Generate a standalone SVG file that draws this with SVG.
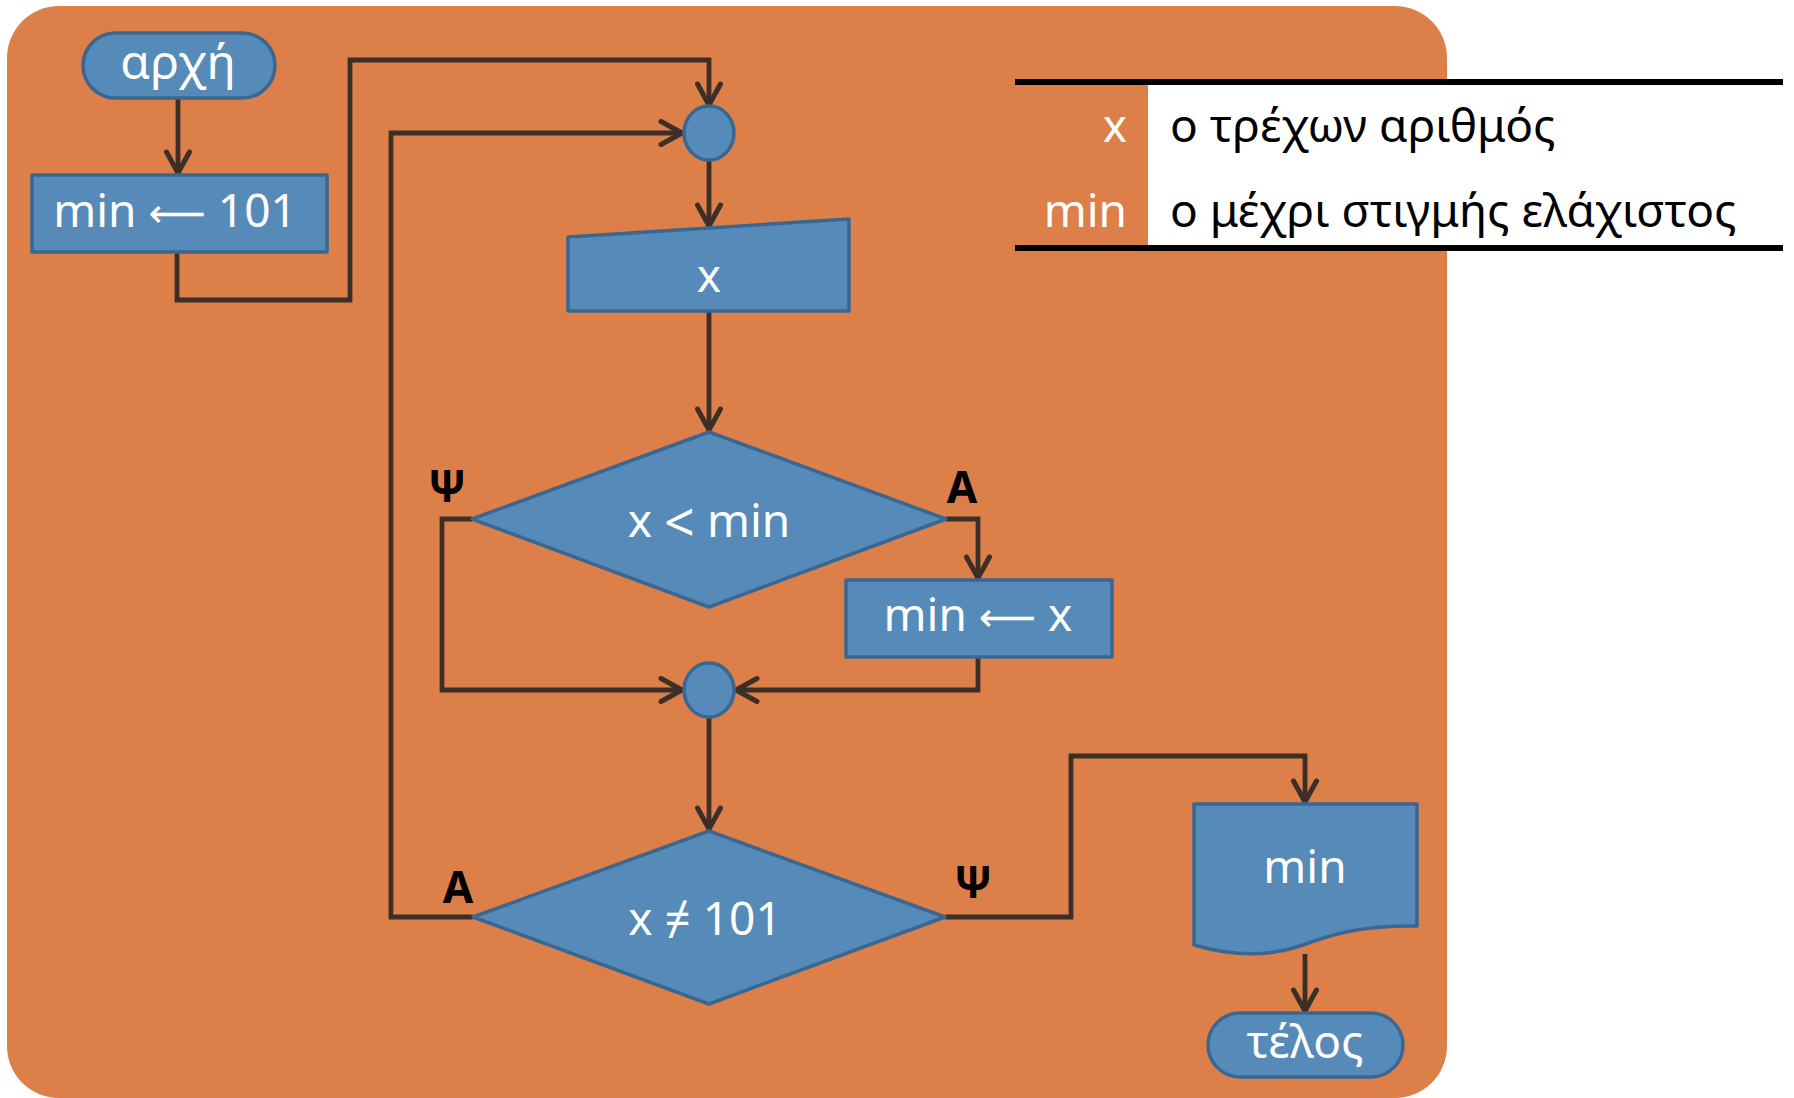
<svg xmlns="http://www.w3.org/2000/svg" width="1794" height="1098" viewBox="0 0 1794 1098">
<defs>
<style>
.node{fill:#558AB9;stroke:#3A6791;stroke-width:3.5;stroke-linejoin:round}
.t{font-family:"Noto Sans","DejaVu Sans",sans-serif;fill:#fff;text-anchor:middle;font-size:46px}
.ar{font-family:"DejaVu Sans",sans-serif;font-size:40px}
.lbl{font-family:"Noto Sans","Liberation Sans",sans-serif;font-weight:bold;fill:#000;text-anchor:middle;font-size:44px}
.leg{font-family:"Noto Sans","Liberation Sans",sans-serif;font-size:46px}
.conn{fill:none;stroke:#3C2F28;stroke-width:4.8;stroke-linejoin:miter;marker-end:url(#arr)}
.rule{stroke:#000;stroke-width:6}
</style>
<marker id="arr" markerUnits="userSpaceOnUse" markerWidth="30" markerHeight="30" viewBox="-25 -15 30 30" refX="0" refY="0" orient="auto" overflow="visible">
<path d="M-21,-11.5 L0,0 L-21,11.5" fill="none" stroke="#3C2F28" stroke-width="5" stroke-linecap="round" stroke-linejoin="round"/>
</marker>
</defs>
<rect x="0" y="0" width="1794" height="1098" fill="#fff"/>
<rect id="background" x="7" y="6" width="1440" height="1092" rx="52" ry="52" fill="#DD7F48"/>

<g id="legend">
<rect x="1148" y="81" width="635" height="168" fill="#fff"/>
<line class="rule" x1="1015" y1="82" x2="1783" y2="82"/>
<line class="rule" x1="1015" y1="248" x2="1783" y2="248"/>
<text class="leg" x="1127" y="142" text-anchor="end" fill="#fff">x</text>
<text class="leg" x="1127" y="227" text-anchor="end" fill="#fff">min</text>
<text class="leg" x="1170" y="142" fill="#000">ο τρέχων αριθμός</text>
<text class="leg" x="1170" y="227" fill="#000">ο μέχρι στιγμής ελάχιστος</text>
</g>

<g id="connectors">
<path class="conn" d="M178,98 V173"/>
<path class="conn" d="M177,252 V300 H350 V60 H709 V105"/>
<path class="conn" d="M709,160 V226"/>
<path class="conn" d="M709,311 V430"/>
<path class="conn" d="M472,519 H442 V690 H682"/>
<path class="conn" d="M946,519 H978 V578"/>
<path class="conn" d="M978,657 V690 H736"/>
<path class="conn" d="M709,717 V829"/>
<path class="conn" d="M473,917 H391 V133 H682"/>
<path class="conn" d="M945,917 H1071 V756 H1305 V802"/>
<path class="conn" d="M1305,954 V1011"/>
<text class="lbl" x="447" y="502">Ψ</text>
<text class="lbl" x="962" y="503">Α</text>
<text class="lbl" x="458" y="903">Α</text>
<text class="lbl" x="973" y="898">Ψ</text>
</g>

<g id="start">
<rect class="node" x="83" y="33" width="192" height="65" rx="32.5" ry="32.5"/>
<text class="t" x="178" y="79" style="font-size:48px">αρχή</text>
</g>

<g id="init">
<rect class="node" x="32" y="175" width="295" height="77"/>
<text class="t" x="175" y="227">min <tspan class="ar">⟵</tspan> 101</text>
</g>

<g id="join1">
<ellipse class="node" cx="709" cy="133" rx="25" ry="27"/>
</g>

<g id="input">
<polygon class="node" points="568,237 849,219 849,311 568,311"/>
<text class="t" x="709" y="292">x</text>
</g>

<g id="cond1">
<polygon class="node" points="709,432 946,519 709,607 472,519"/>
<text class="t" x="709" y="537">x <tspan dy="5" style="font-size:54px">&lt;</tspan><tspan dy="-5"> min</tspan></text>
</g>

<g id="assign">
<rect class="node" x="846" y="580" width="266" height="77"/>
<text class="t" x="978" y="631">min <tspan class="ar">⟵</tspan> x</text>
</g>

<g id="join2">
<ellipse class="node" cx="709" cy="690" rx="25" ry="27"/>
</g>

<g id="cond2">
<polygon class="node" points="709,831 945,917 709,1004 473,917"/>
<text class="t" x="705" y="935">x ≠ 101</text>
</g>

<g id="output">
<path class="node" d="M1194,804 H1417 V926 C1360,925 1330,935 1300,946 C1270,956 1235,957 1194,945 Z"/>
<text class="t" x="1305" y="883">min</text>
</g>

<g id="end">
<rect class="node" x="1208" y="1013" width="195" height="64" rx="32" ry="32"/>
<text class="t" x="1305" y="1058">τέλος</text>
</g>
</svg>
